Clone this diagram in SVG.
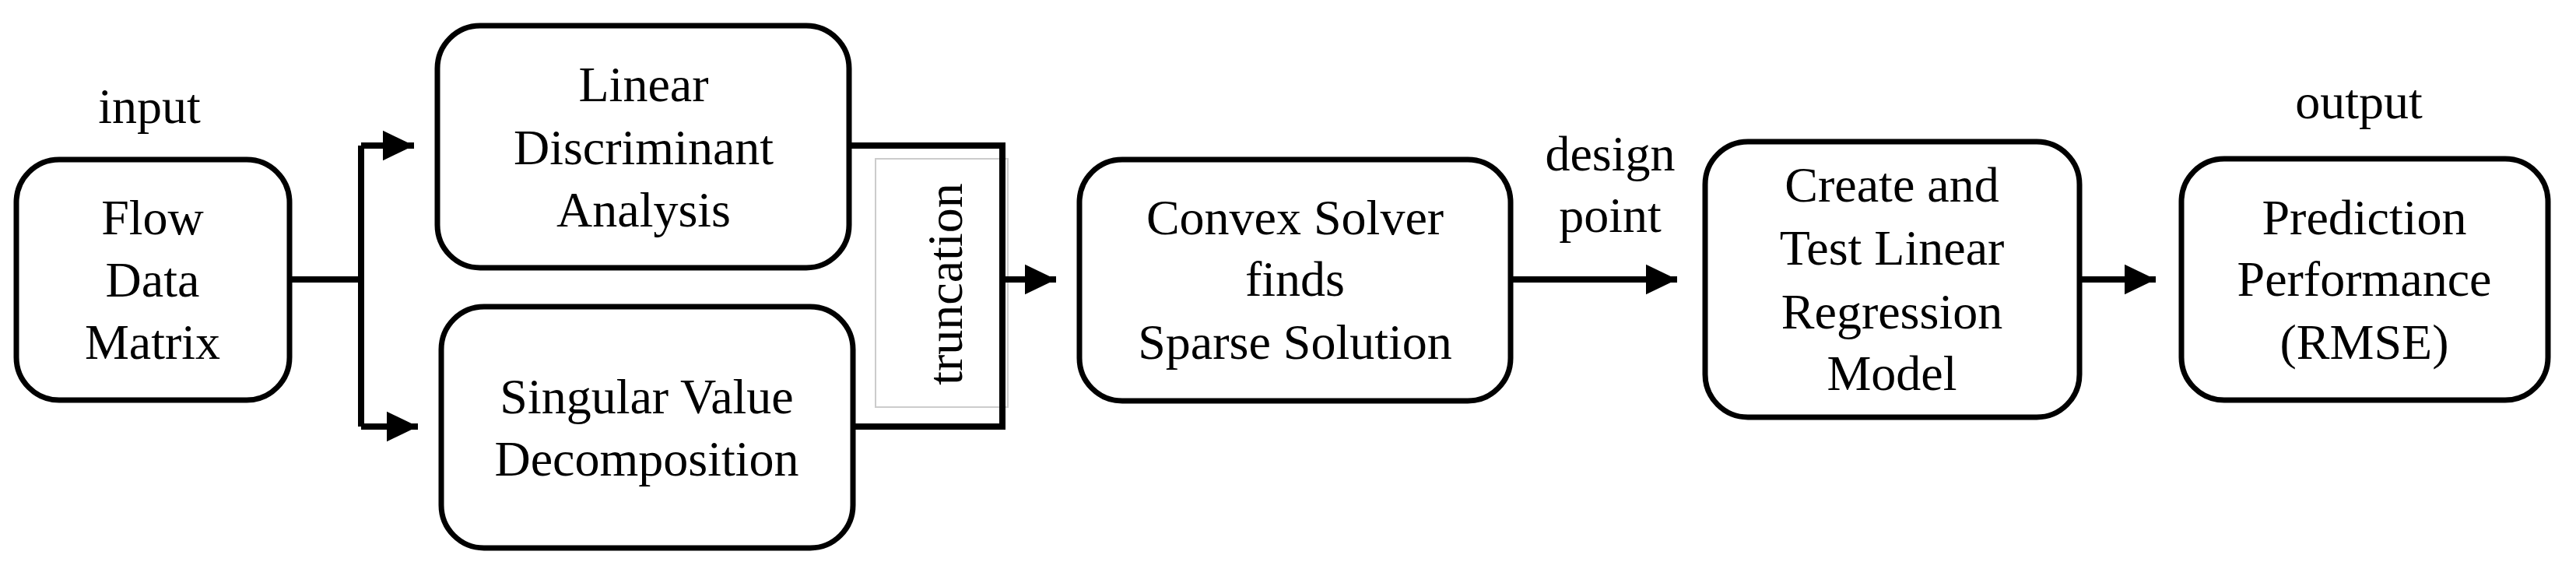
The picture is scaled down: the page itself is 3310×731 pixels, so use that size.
<svg xmlns="http://www.w3.org/2000/svg" width="3310" height="731" viewBox="0 0 3310 731">
<style>
.box{fill:#fff;stroke:#000;stroke-width:7}
.t{font-family:"Liberation Serif","Times New Roman",serif;font-size:64px;text-anchor:middle;fill:#000}
.c{fill:none;stroke:#000;stroke-width:8}
</style>
<defs><marker id="ah" markerWidth="6" markerHeight="6" refX="5" refY="3" orient="auto" markerUnits="strokeWidth"><path d="M0,0.6 L5,3 L0,5.4 z" fill="#000"/></marker></defs>
<rect x="1125" y="204" width="170" height="319" fill="#fff" stroke="#ccc" stroke-width="2"/>
<g id="connectors">
<path class="c" d="M374,359 H464 M464,187 V548"/>
<path class="c" d="M464,187 H532" marker-end="url(#ah)"/>
<path class="c" d="M464,548 H537" marker-end="url(#ah)"/>
<path class="c" d="M1091,187 H1288 V548 H1096"/>
<path class="c" d="M1288,359 H1357" marker-end="url(#ah)"/>
<path class="c" d="M1941,359 H2155" marker-end="url(#ah)"/>
<path class="c" d="M2672,359 H2770" marker-end="url(#ah)"/>
</g>
<g id="flow"><rect class="box" x="21" y="205" width="351" height="309" rx="55"/>
<text class="t" x="196" y="301">Flow</text><text class="t" x="196" y="381">Data</text><text class="t" x="196" y="461">Matrix</text></g>
<g id="lda"><rect class="box" x="562" y="33" width="529" height="311" rx="55"/>
<text class="t" x="827" y="130">Linear</text><text class="t" x="827" y="211">Discriminant</text><text class="t" x="827" y="291">Analysis</text></g>
<g id="svd"><rect class="box" x="567" y="394" width="529" height="310" rx="55"/>
<text class="t" x="831" y="531">Singular Value</text><text class="t" x="831" y="611">Decomposition</text></g>
<g id="truncation"><text class="t" transform="translate(1236,365) rotate(-90)">truncation</text></g>
<g id="convex"><rect class="box" x="1387" y="205" width="554" height="310" rx="55"/>
<text class="t" x="1664" y="301">Convex Solver</text><text class="t" x="1664" y="380">finds</text><text class="t" x="1664" y="461">Sparse Solution</text></g>
<g id="create"><rect class="box" x="2191" y="182" width="481" height="354" rx="55"/>
<text class="t" x="2431" y="259">Create and</text><text class="t" x="2431" y="340">Test Linear</text><text class="t" x="2431" y="422">Regression</text><text class="t" x="2431" y="501">Model</text></g>
<g id="pred"><rect class="box" x="2803" y="204" width="471" height="310" rx="55"/>
<text class="t" x="3038" y="301">Prediction</text><text class="t" x="3038" y="380">Performance</text><text class="t" x="3038" y="461">(RMSE)</text></g>
<text class="t" x="192" y="158">input</text>
<text class="t" x="3031" y="152">output</text>
<text class="t" x="2069" y="219">design</text>
<text class="t" x="2069" y="298">point</text>
</svg>
